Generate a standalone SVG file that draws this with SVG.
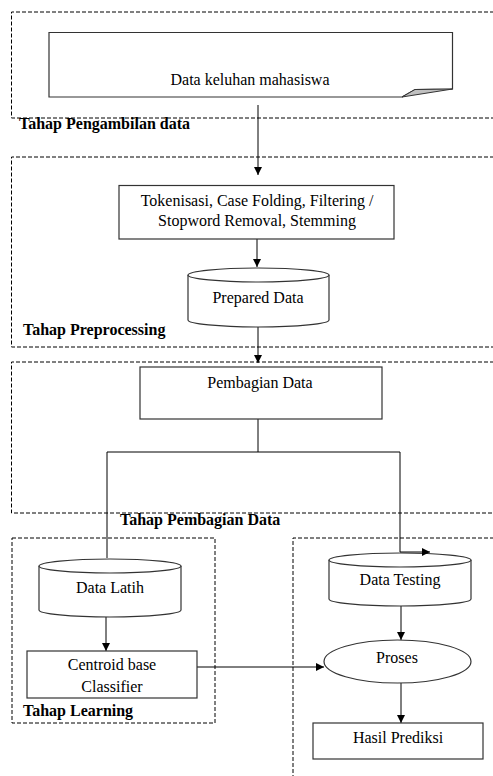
<svg xmlns="http://www.w3.org/2000/svg" width="493" height="776" viewBox="0 0 493 776">
<style>
.stage{fill:none;stroke:#000;stroke-width:1;stroke-dasharray:4,2}
.shape{fill:#fff;stroke:#333;stroke-width:1.2}
.t{font-family:'Liberation Serif','DejaVu Serif',serif;font-size:16px;fill:#000;text-anchor:middle}
.lbl{font-family:'Liberation Serif','DejaVu Serif',serif;font-size:16px;font-weight:bold;fill:#000}
.c{fill:none;stroke:#000;stroke-width:1}
</style>
<defs>
<marker id="ah" markerWidth="8" markerHeight="8" refX="8" refY="4" orient="auto" markerUnits="userSpaceOnUse">
<path d="M0,0 L8,4 L0,8 z" fill="#000"/>
</marker>
</defs>
<rect width="493" height="776" fill="#fff"/>
<g id="stages">
<path class="stage" d="M500,12 H11.5 V118 H500"/>
<path class="stage" d="M500,157 H11.5 V347 H500"/>
<path class="stage" d="M500,362 H11.5 V513 H500"/>
<rect class="stage" x="12" y="538" width="203" height="185"/>
<path class="stage" d="M500,538 H293 V780"/>
<text class="lbl" x="19" y="129">Tahap Pengambilan data</text>
<text class="lbl" x="23" y="335">Tahap Preprocessing</text>
<text class="lbl" x="120" y="525">Tahap Pembagian Data</text>
<text class="lbl" x="23" y="716">Tahap Learning</text>
</g>
<g id="connectors">
<line class="c" x1="258" y1="105" x2="258" y2="175" marker-end="url(#ah)"/>
<line class="c" x1="257" y1="239" x2="257" y2="267" marker-end="url(#ah)"/>
<line class="c" x1="258" y1="327" x2="258" y2="363" marker-end="url(#ah)"/>
<path class="c" d="M258,419 V452 M107,558 V452 H400 V552"/>
<line class="c" x1="106" y1="617" x2="106" y2="651" marker-end="url(#ah)"/>
<line class="c" x1="197" y1="667" x2="324" y2="667" marker-end="url(#ah)"/>
<line class="c" x1="401" y1="606" x2="401" y2="640" marker-end="url(#ah)"/>
<line class="c" x1="401" y1="683" x2="401" y2="723" marker-end="url(#ah)"/>
</g>
<g id="data-keluhan">
<path class="shape" d="M49,32.5 H452.5 V89 L415,89.5 L402,97 H49 Z"/>
<path d="M402,97 L415,89.5 L452.5,89 Z" fill="#c0c0c0" stroke="#333" stroke-width="1"/>
<text class="t" x="250" y="85">Data keluhan mahasiswa</text>
</g>
<g id="preprocess">
<rect class="shape" x="119" y="185.5" width="275" height="53.5"/>
<text class="t" x="257" y="206">Tokenisasi, Case Folding, Filtering /</text>
<text class="t" x="257" y="226">Stopword Removal, Stemming</text>
</g>
<g id="prepared-data">
<path class="shape" d="M188,275 V320 A70.5,7 0 0 0 329,320 V275"/>
<ellipse class="shape" cx="258.5" cy="275" rx="70.5" ry="7"/>
<text class="t" x="258" y="303">Prepared Data</text>
</g>
<g id="pembagian">
<rect class="shape" x="140" y="367" width="242" height="52"/>
<text class="t" x="260" y="388">Pembagian Data</text>
</g>
<g id="data-latih">
<path class="shape" d="M39,566 V610 A71,7 0 0 0 181,610 V566"/>
<ellipse class="shape" cx="110" cy="566" rx="71" ry="7"/>
<text class="t" x="110" y="593">Data Latih</text>
</g>
<g id="centroid">
<rect class="shape" x="27" y="651" width="170" height="47"/>
<text class="t" x="112" y="670">Centroid base</text>
<text class="t" x="112" y="692">Classifier</text>
</g>
<g id="data-testing">
<path class="shape" d="M329,560 V599 A71,7 0 0 0 471,599 V560"/>
<ellipse class="shape" cx="400" cy="560" rx="71" ry="7"/>
<text class="t" x="400" y="585">Data Testing</text>
</g>
<g id="arrow-testing">
<line class="c" x1="400" y1="552" x2="430" y2="552" marker-end="url(#ah)"/>
</g>
<g id="proses">
<ellipse class="shape" cx="397.5" cy="661.5" rx="73.5" ry="21.5"/>
<text class="t" x="397" y="663">Proses</text>
</g>
<g id="hasil">
<rect class="shape" x="313" y="723" width="170" height="36"/>
<text class="t" x="398" y="743">Hasil Prediksi</text>
</g>
</svg>
